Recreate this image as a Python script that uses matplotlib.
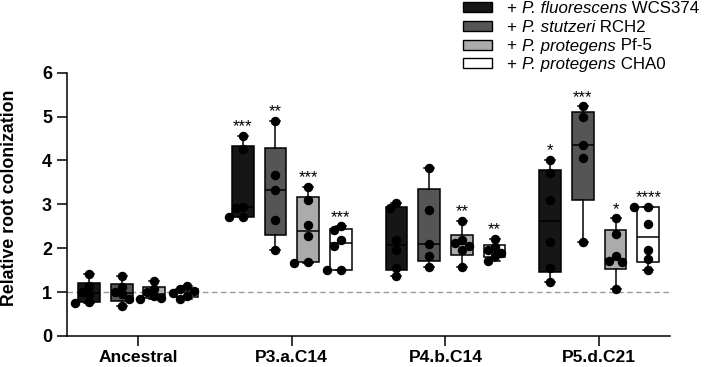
import numpy as np
import matplotlib.pyplot as plt
from matplotlib.patches import Rectangle

plt.rcParams['font.family'] = ['Liberation Sans', 'DejaVu Sans']

groups = ['Ancestral', 'P3.a.C14', 'P4.b.C14', 'P5.d.C21']
# legend label pieces: plain, italic, plain
strains = [('+ ', 'P. fluorescens', ' WCS374'),
           ('+ ', 'P. stutzeri', ' RCH2'),
           ('+ ', 'P. protegens', ' Pf-5'),
           ('+ ', 'P. protegens', ' CHA0')]
colors = ['#161616', '#555555', '#ababab', '#ffffff']

# values per strain, one list per group
wcs374 = [[1.42, 1.15, 1.00, 0.95, 0.77, 0.75],
          [4.56, 4.26, 2.95, 2.92, 2.70, 2.70],
          [3.03, 2.91, 2.19, 1.96, 1.54, 1.37],
          [4.01, 3.71, 3.09, 2.15, 1.54, 1.22]]
rch2 = [[1.37, 1.12, 1.00, 0.96, 0.85, 0.68],
        [4.90, 3.67, 3.33, 2.65, 1.96],
        [3.83, 2.86, 2.09, 1.83, 1.57],
        [5.23, 4.98, 4.36, 4.05, 2.15]]
pf5 = [[1.26, 1.08, 1.00, 0.92, 0.86, 0.85],
       [3.40, 3.10, 2.52, 2.28, 1.68, 1.66],
       [2.63, 2.18, 2.12, 2.05, 1.95, 1.57],
       [2.68, 2.32, 1.83, 1.70, 1.68, 1.07]]
cha0 = [[1.13, 1.06, 1.02, 0.98, 0.91, 0.84],
        [2.50, 2.42, 2.19, 2.04, 1.50, 1.50],
        [2.21, 2.03, 1.95, 1.88, 1.83, 1.70],
        [2.95, 2.93, 2.56, 1.96, 1.75, 1.51]]
all_data = [wcs374, rch2, pf5, cha0]

# significance labels, [group][strain]
stars = [['', '', '', ''],
         ['***', '**', '***', '***'],
         ['', '', '**', '**'],
         ['*', '***', '*', '****']]

offsets = [-0.319, -0.106, 0.106, 0.319]
box_w = 0.141


def spread(vals, sx=154, sy=43.8, d=7.0):
    # push overlapping dots sideways, like a small beeswarm
    placed = []
    for v in vals:
        for off in [0, -0.045, 0.045, -0.09, 0.09]:
            if all(np.hypot((off - px) * sx, (v - pv) * sy) >= d for px, pv in placed):
                break
        placed.append((off, v))
    return [p[0] for p in placed]


fig = plt.figure(figsize=(7.07, 3.67), dpi=100)
ax = fig.add_axes([0.0943, 0.0845, 0.8537, 0.7175])

ax.axhline(1, color='#9a9a9a', ls=(0, (4, 2.5)), lw=1.0, zorder=0.5)

for s, data in enumerate(all_data):
    for g, vals in enumerate(data):
        v = np.array(vals)
        q1, med, q3 = np.percentile(v, [25, 50, 75], method='weibull')
        st = dict(med=med, q1=q1, q3=q3, whislo=v.min(), whishi=v.max(), fliers=[])
        pos = g + offsets[s]
        ax.bxp([st], positions=[pos], widths=box_w, patch_artist=True,
               showfliers=False, capwidths=0.065,
               boxprops=dict(facecolor=colors[s], edgecolor='black', linewidth=1.1),
               medianprops=dict(color='black', linewidth=1.1),
               whiskerprops=dict(color='black', linewidth=1.1),
               capprops=dict(color='black', linewidth=1.1),
               manage_ticks=False)
        xs = pos + np.array(spread(vals))
        ax.plot(xs, v, 'o', color='black', ms=5.8, zorder=5)
        if stars[g][s]:
            ax.text(pos, v.max() + 0.1, stars[g][s], ha='center', va='baseline',
                    fontsize=12)

ax.set_xlim(-0.464, 3.462)
ax.set_ylim(0, 6)
ax.set_xticks(range(len(groups)))
ax.set_xticklabels(groups, fontweight='bold', fontsize=12.6)
ax.set_yticks(range(7))
ax.set_yticklabels([str(i) for i in range(7)], fontweight='bold', fontsize=13)
ax.tick_params(axis='both', length=7.5, width=1.1, color='black')
ax.tick_params(axis='y', pad=3)
ax.tick_params(axis='x', pad=2.5)
for sp in ['top', 'right']:
    ax.spines[sp].set_visible(False)
for sp in ['left', 'bottom']:
    ax.spines[sp].set_linewidth(1.1)
ax.set_ylabel('Relative root colonization', fontweight='bold', fontsize=12.8)
ax.yaxis.set_label_coords(-0.08, 0.526)

# legend drawn by hand in figure coords
W, H = 707, 367
renderer = fig.canvas.get_renderer()
for i, (parts, c) in enumerate(zip(strains, colors)):
    yc = 6.7 + i * 18.9
    fig.add_artist(Rectangle((463.3 / W, 1 - (yc + 5) / H), 29 / W, 10 / H,
                             facecolor=c, edgecolor='black', lw=1.0,
                             transform=fig.transFigure))
    x = 507.0
    for k, piece in enumerate(parts):
        t = fig.text(x / W, 1 - yc / H, piece, fontsize=12.2, va='center_baseline',
                     ha='left', style='italic' if k == 1 else 'normal')
        x += t.get_window_extent(renderer).width

fig.savefig('out.png', dpi=100)
